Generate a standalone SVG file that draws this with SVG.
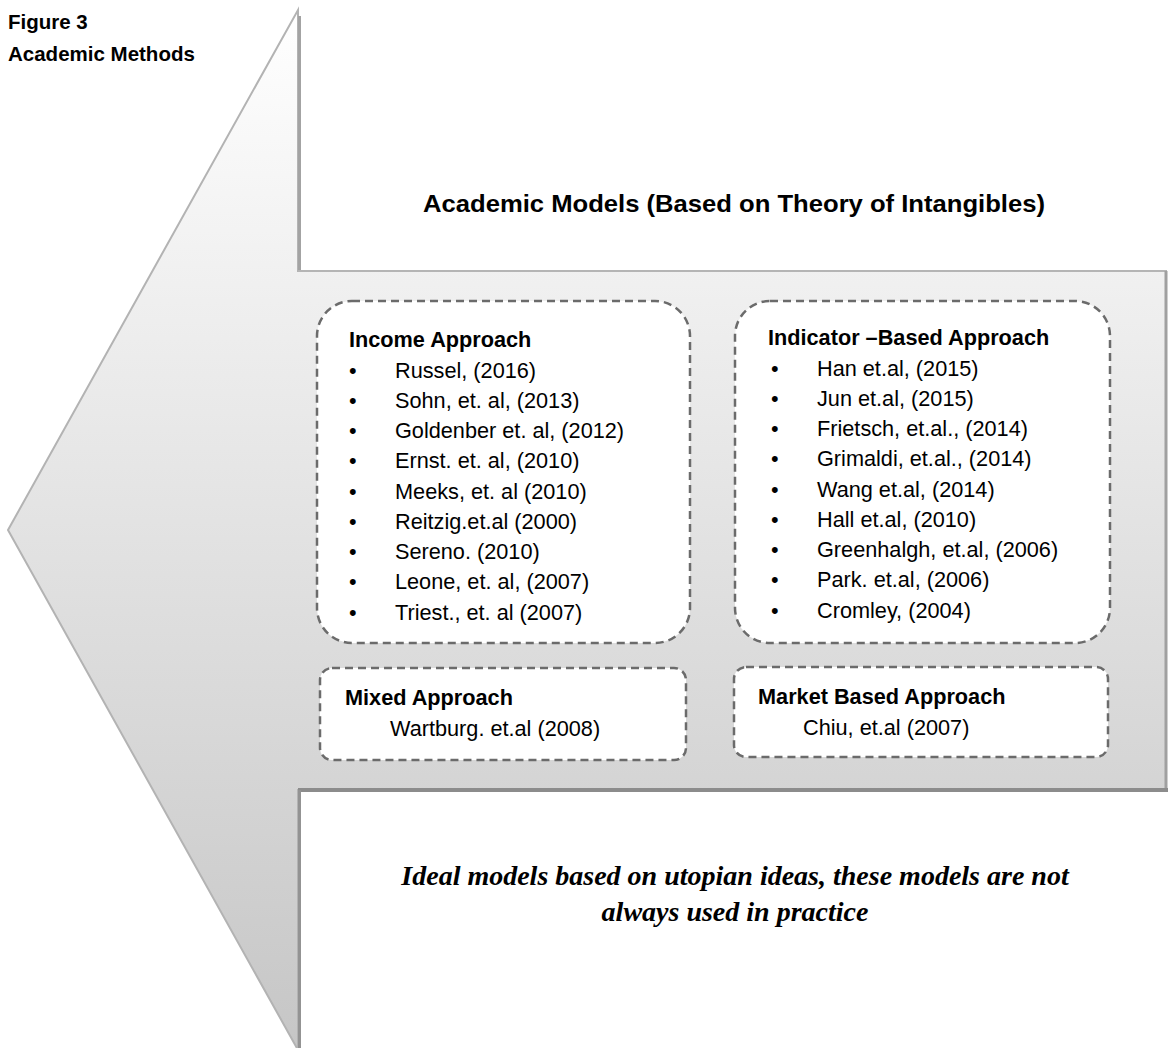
<svg xmlns="http://www.w3.org/2000/svg" width="1168" height="1048" viewBox="0 0 1168 1048">
  <defs>
    <linearGradient id="arrowFill" x1="0" y1="10" x2="0" y2="1050" gradientUnits="userSpaceOnUse">
      <stop offset="0" stop-color="#ffffff"/>
      <stop offset="1" stop-color="#c6c6c6"/>
    </linearGradient>
  </defs>
  <style>
    .txt { font-family: "Liberation Sans", Arial, sans-serif; font-size: 21.7px; fill: #000; }
    .b { font-weight: bold; }
    .box { fill: #ffffff; stroke: #6b6b6b; stroke-width: 2.5; stroke-dasharray: 8 5; }
    .cap { font-family: "Liberation Sans", Arial, sans-serif; font-size: 20.5px; font-weight: bold; fill: #000; }
    .title { font-family: "Liberation Sans", Arial, sans-serif; font-size: 24.5px; font-weight: bold; fill: #000; }
    .ideal { font-family: "Liberation Serif", "Times New Roman", serif; font-size: 28px; font-weight: bold; font-style: italic; fill: #000; text-anchor: middle; }
  </style>
  <rect width="1168" height="1048" fill="#ffffff"/>

  <g id="caption">
    <text class="cap" x="8" y="29">Figure 3</text>
    <text class="cap" x="8" y="61">Academic Methods</text>
  </g>

  <g id="arrow">
    <polygon points="298,10 298,271 1166,271 1166,790 298,790 298,1050 8,530" fill="url(#arrowFill)" stroke="#b3b3b3" stroke-width="2" stroke-linejoin="miter"/>
    <line x1="299.5" y1="16" x2="299.5" y2="271" stroke="#a3a3a3" stroke-width="3"/>
    <line x1="298" y1="271" x2="1166" y2="271" stroke="#b5b5b5" stroke-width="2"/>
    <line x1="1166" y1="271" x2="1166" y2="790" stroke="#a0a0a0" stroke-width="3"/>
    <line x1="298" y1="790" x2="1168" y2="790" stroke="#8c8c8c" stroke-width="4"/>
    <line x1="299.5" y1="790" x2="299.5" y2="1048" stroke="#939393" stroke-width="3"/>
  </g>

  <g id="title">
    <text class="title" x="423" y="212" textLength="622" lengthAdjust="spacingAndGlyphs">Academic Models (Based on Theory of Intangibles)</text>
  </g>

  <g id="income-approach">
    <rect class="box" x="317" y="301" width="373" height="342" rx="35" ry="35"/>
    <text class="txt b" x="349" y="347">Income Approach</text>
    <text class="txt" x="349" y="377.5">•</text><text class="txt" x="395" y="377.5">Russel, (2016)</text>
    <text class="txt" x="349" y="407.7">•</text><text class="txt" x="395" y="407.7">Sohn, et. al, (2013)</text>
    <text class="txt" x="349" y="438">•</text><text class="txt" x="395" y="438">Goldenber et. al, (2012)</text>
    <text class="txt" x="349" y="468.2">•</text><text class="txt" x="395" y="468.2">Ernst. et. al, (2010)</text>
    <text class="txt" x="349" y="498.5">•</text><text class="txt" x="395" y="498.5">Meeks, et. al (2010)</text>
    <text class="txt" x="349" y="528.7">•</text><text class="txt" x="395" y="528.7">Reitzig.et.al (2000)</text>
    <text class="txt" x="349" y="559">•</text><text class="txt" x="395" y="559">Sereno. (2010)</text>
    <text class="txt" x="349" y="589.2">•</text><text class="txt" x="395" y="589.2">Leone, et. al, (2007)</text>
    <text class="txt" x="349" y="619.5">•</text><text class="txt" x="395" y="619.5">Triest., et. al (2007)</text>
  </g>

  <g id="indicator-based-approach">
    <rect class="box" x="735" y="301" width="375" height="342" rx="35" ry="35"/>
    <text class="txt b" x="768" y="345">Indicator –Based Approach</text>
    <text class="txt" x="771" y="375.5">•</text><text class="txt" x="817" y="375.5">Han et.al, (2015)</text>
    <text class="txt" x="771" y="405.7">•</text><text class="txt" x="817" y="405.7">Jun et.al, (2015)</text>
    <text class="txt" x="771" y="436">•</text><text class="txt" x="817" y="436">Frietsch, et.al., (2014)</text>
    <text class="txt" x="771" y="466.2">•</text><text class="txt" x="817" y="466.2">Grimaldi, et.al., (2014)</text>
    <text class="txt" x="771" y="496.5">•</text><text class="txt" x="817" y="496.5">Wang et.al, (2014)</text>
    <text class="txt" x="771" y="526.7">•</text><text class="txt" x="817" y="526.7">Hall et.al, (2010)</text>
    <text class="txt" x="771" y="557">•</text><text class="txt" x="817" y="557">Greenhalgh, et.al, (2006)</text>
    <text class="txt" x="771" y="587.2">•</text><text class="txt" x="817" y="587.2">Park. et.al, (2006)</text>
    <text class="txt" x="771" y="617.5">•</text><text class="txt" x="817" y="617.5">Cromley, (2004)</text>
  </g>

  <g id="mixed-approach">
    <rect class="box" x="320" y="668" width="366" height="92" rx="12" ry="12"/>
    <text class="txt b" x="345" y="705">Mixed Approach</text>
    <text class="txt" x="390" y="736">Wartburg. et.al (2008)</text>
  </g>

  <g id="market-based-approach">
    <rect class="box" x="734" y="667" width="374" height="90" rx="12" ry="12"/>
    <text class="txt b" x="758" y="704">Market Based Approach</text>
    <text class="txt" x="803" y="735">Chiu, et.al (2007)</text>
  </g>

  <g id="ideal-note">
    <text class="ideal" x="735" y="885">Ideal models based on utopian ideas, these models are not</text>
    <text class="ideal" x="735" y="921">always used in practice</text>
  </g>

  <g id="connectors"/>
</svg>
